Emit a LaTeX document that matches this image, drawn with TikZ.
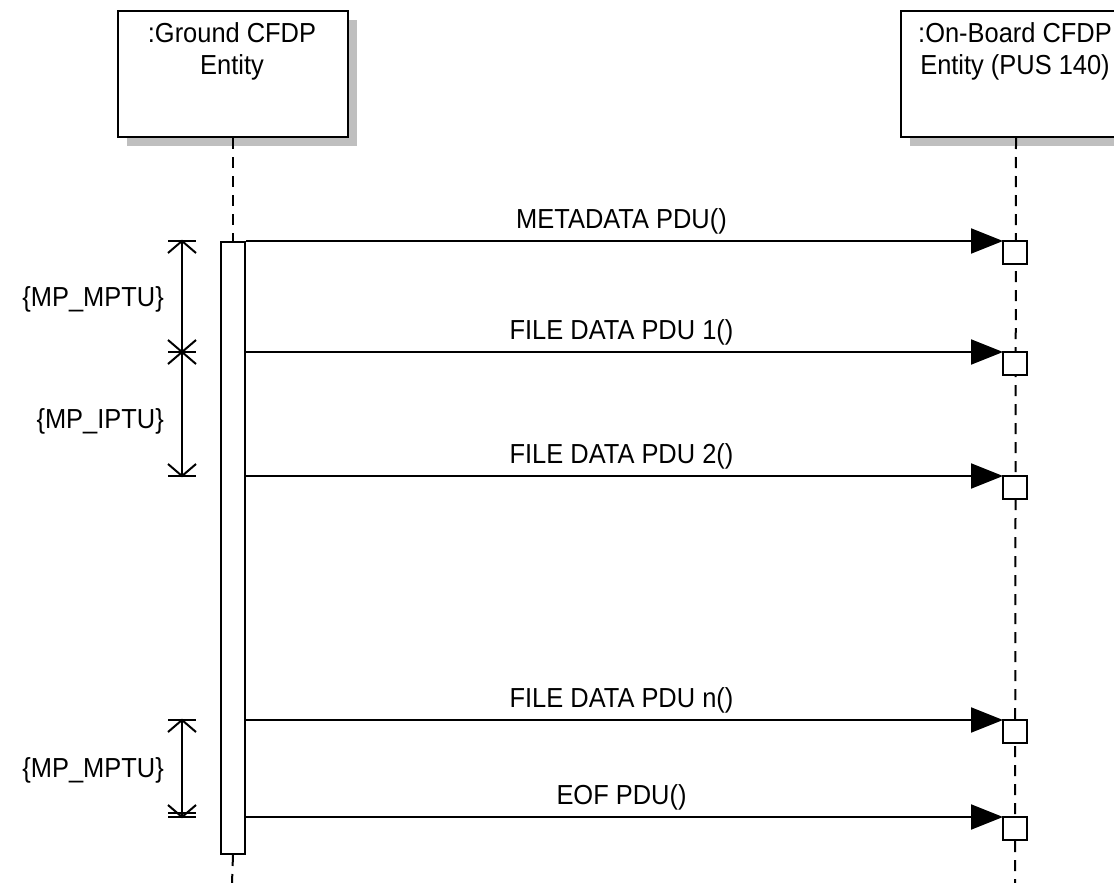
\documentclass[tikz,border=0pt]{standalone}
\usepackage{fontspec}
\setmainfont{Liberation Sans}[FakeStretch=0.925]
\usetikzlibrary{arrows.meta,shadows,calc}
\tikzset{
  lifebox/.style={draw, line width=2pt, fill=white, minimum width=230pt, minimum height=126pt,
    anchor=north west, inner sep=0,
    drop shadow={shadow xshift=9pt, shadow yshift=-9pt, fill=black!25, opacity=1}},
  boxtext/.style={anchor=north, align=center, inner sep=0, font=\fontsize{27.5}{32}\selectfont},
  lifeline/.style={line width=2pt, dash pattern=on 11pt off 8pt},
  actbar/.style={draw, line width=2pt, fill=white, minimum width=24pt, minimum height=612pt,
    inner sep=0, anchor=north west},
  recv/.style={draw, line width=2pt, fill=white, minimum width=24pt, minimum height=23pt,
    inner sep=0, outer sep=0, anchor=north west},
  msg/.style={line width=2pt, -{Triangle[length=32pt,width=25pt]}},
  msglabel/.style={above=6pt, xshift=-3pt, inner sep=0, font=\fontsize{27.5}{32}\selectfont},
  ival/.style={line width=2pt},
  ivlabel/.style={anchor=east, inner sep=0, font=\fontsize{27.5}{32}\selectfont},
  ivtop/.pic={\draw[ival] (-14,0)--(14,0); \draw[ival] (-14,12)--(0,0)--(14,12);},
  ivbot/.pic={\draw[ival] (-14,0)--(14,0); \draw[ival] (-14,-12)--(0,0)--(14,-12);},
}
\begin{document}
\begin{tikzpicture}[x=1pt,y=-1pt]
\useasboundingbox (0,0) rectangle (1114,883);
\clip (0,0) rectangle (1114,883);
\fill[white] (0,0) rectangle (1114,883);

% lifeline heads
\node[lifebox] (gbox) at (117,10) {};
\node[boxtext] (gtext) at (232,22.5) {:Ground CFDP\\Entity};
\node[lifebox] (obox) at (900,10) {};
\node[boxtext] (otext) at (1015,22.5) {:On-Board CFDP\\Entity (PUS 140)};

\coordinate (gend) at (232,883);
\coordinate (oend) at (1015,883);

% activation bar
\node[actbar] (act) at (220,241) {};

% lifelines
\draw[lifeline] (gbox.south) -- (act.north);
\draw[lifeline] (act.south) -- (gend);
\draw[lifeline] (obox.south) -- (oend);

% receive boxes
\node[recv] (r1) at (1003,241) {};
\node[recv] (r2) at (1003,352) {};
\node[recv] (r3) at (1003,476) {};
\node[recv] (r4) at (1003,720) {};
\node[recv] (r5) at (1003,817) {};

% messages
\draw[msg] (act.east |- r1.north west) -- (r1.north west) node[midway, msglabel] {METADATA PDU()};
\draw[msg] (act.east |- r2.north west) -- (r2.north west) node[midway, msglabel] {FILE DATA PDU 1()};
\draw[msg] (act.east |- r3.north west) -- (r3.north west) node[midway, msglabel] {FILE DATA PDU 2()};
\draw[msg] (act.east |- r4.north west) -- (r4.north west) node[midway, msglabel] {FILE DATA PDU n()};
\draw[msg] (act.east |- r5.north west) -- (r5.north west) node[midway, msglabel] {EOF PDU()};

% interval constraints
\coordinate (i1a) at (182,241);
\coordinate (i1b) at (182,352);
\coordinate (i2b) at (182,476);
\coordinate (i3a) at (182,720);
\coordinate (i3b) at (182,817);
\draw[ival] (i1a) -- (i1b) -- (i2b);
\draw[ival] (i3a) -- (i3b);
\pic at (i1a) {ivtop};
\pic at (i1b) {ivbot};
\pic at (i1b) {ivtop};
\pic at (i2b) {ivbot};
\pic at (i3a) {ivtop};
\pic at (i3b) {ivbot};
\draw[ival] ($(i3b)+(-14,-4)$) -- ($(i3b)+(14,-4)$);

\node[ivlabel] (l1) at (164,299) {\{MP\_MPTU\}};
\node[ivlabel] (l2) at (164,421) {\{MP\_IPTU\}};
\node[ivlabel] (l3) at (164,770) {\{MP\_MPTU\}};
\end{tikzpicture}
\end{document}
